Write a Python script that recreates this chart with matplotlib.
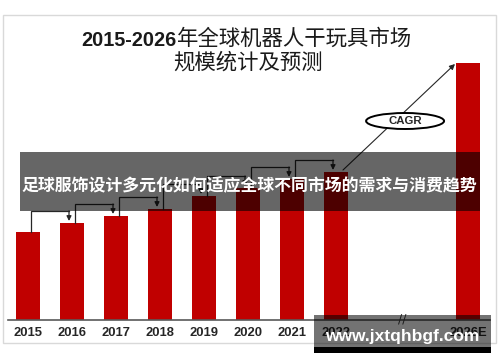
import matplotlib
matplotlib.use("Agg")
import matplotlib.pyplot as plt
from matplotlib.patches import Rectangle, Ellipse

# ---- data ----
years = ["2015", "2016", "2017", "2018", "2019", "2020", "2021", "2022", "2026E"]
positions = [0, 1, 2, 3, 4, 5, 6, 7, 10]
values = [88, 97, 104, 111, 124, 132, 141, 148, 257]

title_num = "2015-2026"
title_cn1 = "年全球机器人干玩具市场"
title_cn2 = "规模统计及预测"
banner_text = "足球服饰设计多元化如何适应全球不同市场的需求与消费趋势"
watermark_text = "www.jxtqhbgf.com"

W, H = 500, 362
fig = plt.figure(figsize=(5, 3.62), dpi=100)
fig.patch.set_facecolor("white")

def fx(px):
    return px / W

def fy(py):
    return 1 - py / H

# axes: baseline at y=320px, top at 50px, x from 8 to 490 px
x_left_px, x_right_px = 8, 490
ax = fig.add_axes([fx(x_left_px), fy(320), fx(x_right_px) - fx(x_left_px), fy(50) - fy(320)])
unit = 44.0
ax.set_xlim((x_left_px - 28) / unit, (x_right_px - 28) / unit)
ax.set_ylim(0, 270)
ax.set_facecolor("none")

ax.bar(positions, values, width=24 / unit, color="#c00000", zorder=2)

for s in ["top", "right", "left"]:
    ax.spines[s].set_visible(False)
ax.spines["bottom"].set_color("#595959")
ax.spines["bottom"].set_linewidth(1.2)
ax.set_yticks([])
ax.set_xticks(positions)
ax.set_xticklabels(years, fontfamily="Liberation Sans", fontweight="bold",
                   fontsize=9.4, color="#262626")
ax.tick_params(axis="x", length=0, pad=5)

# axis break
ax.text(8.5, 1, "//", ha="center", va="center", fontsize=9, color="#404040",
        fontfamily="DejaVu Sans", clip_on=False, zorder=3)

# step arrows between consecutive bars
dx = 3 / unit
for i in range(7):
    x0 = positions[i] + dx
    x1 = positions[i + 1] - dx
    y0 = values[i]
    yh = values[i + 1] + 12
    yt = values[i + 1] + 2
    ax.plot([x0, x0, x1], [y0, yh, yh], color="#262626", lw=0.9, zorder=3,
            solid_joinstyle="miter")
    ax.annotate("", xy=(x1, yt), xytext=(x1, yh),
                arrowprops=dict(arrowstyle="-|>", color="#262626", lw=0.9,
                                mutation_scale=7, shrinkA=0, shrinkB=0),
                zorder=3)

# CAGR arrow
ax.annotate("", xy=(positions[8] - 13 / unit, values[8] - 1),
            xytext=(positions[7] + 7 / unit, values[7] + 2),
            arrowprops=dict(arrowstyle="-|>", color="#262626", lw=0.8,
                            mutation_scale=8, shrinkA=0, shrinkB=0), zorder=3)
ell = Ellipse((8.57, 199), width=78 / unit, height=16, facecolor="white",
              edgecolor="black", lw=1.4, zorder=4)
ax.add_patch(ell)
ax.text(8.57, 199, "CAGR", ha="center", va="center", fontsize=8.2,
        fontweight="bold", fontfamily="Liberation Sans", color="#262626", zorder=5)

# frame border
fig.patches.append(Rectangle((fx(3), fy(343)), fx(496) - fx(3), fy(15) - fy(343),
                             transform=fig.transFigure, fill=False,
                             edgecolor="#d9d9d9", lw=1.0, zorder=1))

# title
fig.text(fx(177), fy(40), title_num, ha="right", va="center", fontsize=14.3,
         fontweight="bold", fontfamily="Liberation Sans", color="#1a1a1a")
fig.text(fx(177), fy(39), title_cn1, ha="left", va="center", fontsize=15.4,
         fontfamily=["Noto Sans CJK SC", "DejaVu Sans"], color="#1a1a1a")
fig.text(fx(248), fy(63), title_cn2, ha="center", va="center", fontsize=15.4,
         fontfamily=["Noto Sans CJK SC", "DejaVu Sans"], color="#1a1a1a")

# banner overlay
fig.patches.append(Rectangle((fx(20), fy(211)), fx(480) - fx(20), fy(152) - fy(211),
                             transform=fig.transFigure, facecolor="black",
                             alpha=0.6, edgecolor="none", zorder=5))
fig.text(fx(249.5), fy(185), banner_text, ha="center", va="center", fontsize=12.2,
         fontweight="bold", fontfamily=["Noto Sans CJK SC", "DejaVu Sans"],
         color="white", zorder=6)

# watermark
fig.patches.append(Rectangle((fx(314), fy(347)), fx(491) - fx(314), fy(315) - fy(347),
                             transform=fig.transFigure, facecolor="black",
                             alpha=0.55, edgecolor="none", zorder=5))
fig.patches.append(Rectangle((fx(314), fy(353)), fx(491) - fx(314), fy(347) - fy(353),
                             transform=fig.transFigure, facecolor="black",
                             edgecolor="none", zorder=5))
fig.text(fx(402), fy(336), watermark_text, ha="center", va="center", fontsize=12.5,
         fontweight="bold", fontfamily="Liberation Sans", color="white", zorder=6)

fig.savefig("out.png", dpi=100)
